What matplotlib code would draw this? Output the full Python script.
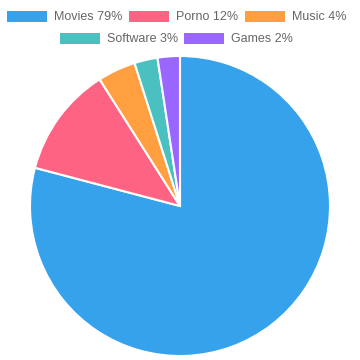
import matplotlib
matplotlib.use("Agg")
import matplotlib.pyplot as plt
from matplotlib.patches import Rectangle

labels = ["Movies", "Porno", "Music", "Software", "Games"]
values = [79.1, 11.9, 4.1, 2.5, 2.4]
legend_pct = [79, 12, 4, 3, 2]
colors = ["#36A2EB", "#FF6384", "#FF9F40", "#4BC0C0", "#9966FF"]

W = H = 360
fig = plt.figure(figsize=(W / 100, H / 100), dpi=100, facecolor="white")

# pie: centre (180, 206) px from top, radius 150 px
ax = fig.add_axes([30 / W, 4 / H, 300 / W, 300 / H])
ax.pie(values, colors=colors, startangle=90, counterclock=False, radius=1,
       wedgeprops=dict(edgecolor="white", linewidth=1.5))
ax.set_xlim(-1, 1); ax.set_ylim(-1, 1)
ax.set_aspect("equal")
ax.axis("off")

# legend drawn by hand (two centred rows, like Chart.js)
box_x = [7, 129, 245, 60, 184]
box_y = [11, 11, 11, 33, 33]
for i, lab in enumerate(labels):
    x0, y0 = box_x[i], box_y[i]
    fig.patches.append(Rectangle((x0 / W, 1 - (y0 + 11) / H), 40 / W, 11 / H,
                                 transform=fig.transFigure, facecolor=colors[i],
                                 edgecolor="none"))
    fig.text((x0 + 47) / W, 1 - (y0 + 6) / H, f"{lab} {legend_pct[i]}%",
             fontsize=9, color="#666666", ha="left", va="center",
             family="Liberation Sans")

fig.savefig("out.png", dpi=100, facecolor="white")
